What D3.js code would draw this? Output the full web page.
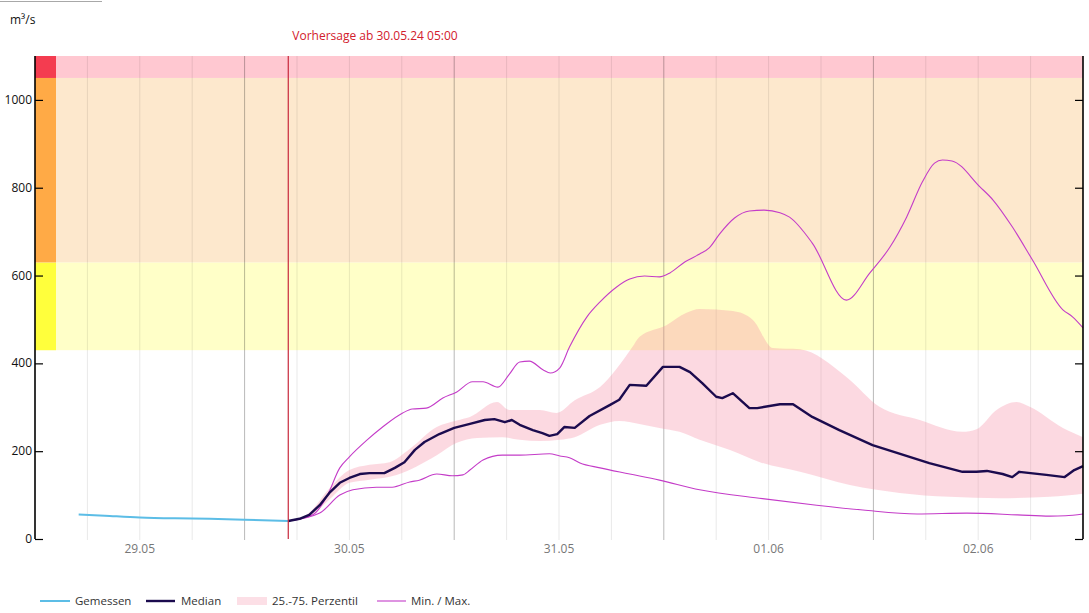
<!DOCTYPE html>
<html><head><meta charset="utf-8">
<script src="https://d3js.org/d3.v7.min.js"></script>
<style>body{margin:0;background:#fff}svg{display:block;font-family:"Open Sans",sans-serif}</style>
</head><body><svg id="c" width="1089" height="613"></svg>
<script>
// ---- data (hours relative to 30.05.24 00:00, values in m³/s) ----
const forecastStartHour = 5; // 30.05.24 05:00
const dayLabels = ["29.05", "30.05", "31.05", "01.06", "02.06"];
const yTicks = [0, 200, 400, 600, 800, 1000];
const warnLevels = [430, 630, 1050, 1100];
const warnBandColors = ["#ffffc8", "#fde8cd", "#ffc8d1"];
const warnStripColors = ["#ffff3c", "#ffaa46", "#f43c50"];

const measuredHours  = [-19, -16, -12, -8, -4, 0, 5];
const measuredValues = [56, 53, 49, 47, 46, 44, 41];

const medianHours  = [5, 6.3, 7.4, 8.6, 9.7, 10.9, 12, 13.2, 14.3, 16, 17.2, 18.3, 19.5, 20.6, 22.3, 24, 25.8, 27.5, 28.6, 29.8, 30.6, 31.5, 33, 34.1, 34.9, 35.8, 36.6, 37.8, 39.5, 41.8, 42.9, 44.1, 46, 47.9, 49.8, 51, 52.4, 54, 54.7, 55.9, 57.8, 58.7, 61.3, 62.8, 65, 68.1, 71.9, 74.7, 78.4, 82.2, 83.8, 85, 86.8, 87.9, 88.7, 91.8, 93.9, 95, 96];
const medianValues = [41, 46, 55, 77, 105, 128, 139, 148, 150, 150, 162, 175, 203, 221, 239, 253, 262, 271, 273, 266, 271, 260, 248, 241, 235, 239, 255, 253, 280, 305, 317, 351, 349, 392, 392, 380, 355, 324, 321, 332, 298, 298, 307, 307, 278, 248, 214, 196, 173, 153, 153, 155, 148, 141, 153, 146, 141, 157, 166];

const maxHours  = [5, 7.8, 9.4, 10.9, 12, 14, 15.8, 18.1, 19.2, 20.8, 22.7, 24.3, 26.1, 27.3, 29, 30.3, 31.5, 32.6, 34.2, 35, 36.1, 37.2, 39.2, 40.7, 42.6, 44.1, 45.8, 47.5, 48.7, 50.4, 52.1, 53.2, 54.4, 56.1, 57.8, 59.5, 61.3, 62.4, 65, 68.9, 71.6, 73.9, 75.8, 77.6, 79, 79.9, 81, 84.2, 85.7, 87.9, 90.2, 93.7, 94.8, 96];
const maxValues = [41, 55, 96, 162, 187, 225, 255, 287, 296, 298, 321, 335, 358, 358, 346, 375, 403, 405, 385, 378, 390, 437, 506, 540, 574, 592, 599, 597, 606, 631, 649, 663, 695, 731, 747, 749, 743, 733, 674, 544, 606, 665, 733, 813, 856, 863, 861, 802, 772, 711, 636, 522, 506, 481];

const minHours  = [5, 8.6, 10.9, 12.4, 15.1, 16.9, 18.9, 20, 22, 23.8, 25, 25.8, 27.3, 29.5, 31.5, 34.9, 36.1, 37.2, 38.4, 40.7, 44.1, 47.5, 52.1, 59.3, 65.5, 70.8, 77, 82.7, 88.5, 92.2, 94, 96];
const minValues = [41, 59, 100, 112, 118, 118, 130, 134, 148, 144, 146, 157, 180, 191, 191, 194, 189, 185, 173, 162, 148, 134, 112, 92, 77, 66, 57, 59, 55, 52, 53, 57];

const p75Hours  = [5, 7.4, 9.7, 12, 14.3, 16.6, 18.9, 22, 24.3, 25.8, 28.9, 30.3, 33.8, 35.7, 37.8, 40.7, 44.4, 45.2, 48.3, 50.6, 52.1, 55.9, 58.2, 60.5, 63.6, 68.9, 72.7, 77.3, 82.2, 83.8, 86.1, 88.4, 89.9, 93.7, 96];
const p75Values = [41, 60, 115, 157, 169, 175, 205, 255, 270, 278, 312, 294, 294, 287, 316, 346, 437, 460, 487, 515, 524, 519, 499, 435, 432, 369, 301, 271, 244, 250, 294, 312, 301, 253, 232];

const p25Hours  = [5, 7.4, 9.7, 12, 14.3, 17.4, 22, 24.3, 26.6, 29.5, 31.5, 33.8, 36.1, 37.8, 40.7, 42.9, 45.2, 47.5, 49.8, 52.1, 55.5, 59, 63.6, 69.3, 75, 80.7, 86.5, 92.2, 96];
const p25Values = [41, 50, 90, 128, 135, 146, 191, 219, 230, 232, 226, 223, 226, 232, 260, 269, 262, 253, 244, 226, 203, 175, 153, 123, 105, 96, 93, 96, 103];

// ---- layout ----
const svg = d3.select("#c");
const L = 35, R = 1083, T = 56, B = 539;
const base = new Date(2024, 4, 30, 0, 0);
const hourToDate = h => new Date(base.getTime() + h * 3600e3);
const x = d3.scaleTime().domain([hourToDate(-24), hourToDate(96)]).range([L, R]);
const y = d3.scaleLinear().domain([0, 1100]).range([B, T]);

// top-left artifact line
svg.append("line").attr("x1", 0).attr("x2", 102).attr("y1", 1.5).attr("y2", 1.5).attr("stroke", "#a8a8a8").attr("stroke-width", 1.2);

// warning bands
for (let i = 0; i < 3; i++) {
  svg.append("rect").attr("x", L).attr("width", R - L)
    .attr("y", y(warnLevels[i + 1])).attr("height", y(warnLevels[i]) - y(warnLevels[i + 1]))
    .attr("fill", warnBandColors[i]);
  svg.append("rect").attr("x", L).attr("width", 21)
    .attr("y", y(warnLevels[i + 1])).attr("height", y(warnLevels[i]) - y(warnLevels[i + 1]))
    .attr("fill", warnStripColors[i]);
}

// gridlines every 6h
const grid = d3.range(-18, 96, 6);
svg.append("g").selectAll("line").data(grid).join("line")
  .attr("x1", d => x(hourToDate(d))).attr("x2", d => x(hourToDate(d)))
  .attr("y1", T).attr("y2", B + 1)
  .attr("stroke", d => d % 24 === 0 ? "rgba(0,0,0,0.28)" : "rgba(0,0,0,0.09)")
  .attr("stroke-width", 1);

// percentile band
const band = p75Hours.map((h, i) => ({h, v: p75Values[i]}));
const lowPts = p25Hours.map((h, i) => ({h, v: p25Values[i]}));
const upperLine = d3.line().x(d => x(hourToDate(d.h))).y(d => y(d.v)).curve(d3.curveMonotoneX);
const lowerRev = lowPts.slice().reverse();
const upperPath = upperLine(band);
const lowerPath = d3.line().x(d => x(hourToDate(d.h))).y(d => y(d.v)).curve(d3.curveMonotoneX)(lowerRev);
svg.append("path").attr("d", upperPath + "L" + lowerPath.slice(1) + "Z")
  .attr("fill", "rgba(246,140,165,0.33)");

const lineGen = curve => d3.line().x(d => x(hourToDate(d[0]))).y(d => y(d[1])).curve(curve);
const zip = (a, b) => a.map((h, i) => [h, b[i]]);

svg.append("path").attr("d", lineGen(d3.curveMonotoneX)(zip(maxHours, maxValues)))
  .attr("fill", "none").attr("stroke", "#c43cc8").attr("stroke-width", 1.1);
svg.append("path").attr("d", lineGen(d3.curveMonotoneX)(zip(minHours, minValues)))
  .attr("fill", "none").attr("stroke", "#c43cc8").attr("stroke-width", 1.1);
svg.append("path").attr("d", lineGen(d3.curveLinear)(zip(medianHours, medianValues)))
  .attr("fill", "none").attr("stroke", "#1b0b4e").attr("stroke-width", 2.4).attr("stroke-linejoin", "round");
svg.append("path").attr("d", lineGen(d3.curveMonotoneX)(zip(measuredHours, measuredValues)))
  .attr("fill", "none").attr("stroke", "#5cbde6").attr("stroke-width", 2);

// forecast line + label
const fx = x(hourToDate(forecastStartHour));
svg.append("line").attr("x1", fx).attr("x2", fx).attr("y1", T).attr("y2", B)
  .attr("stroke", "#c8283c").attr("stroke-width", 1.2);
svg.append("text").attr("x", fx + 4).attr("y", 40).attr("fill", "#d2202c")
  .attr("font-size", 12).text("Vorhersage ab 30.05.24 05:00");

// y axes
const yAxisL = d3.axisRight(y).tickValues(yTicks).tickSize(8).tickFormat("");
const gl = svg.append("g").attr("transform", `translate(${L},0)`).call(yAxisL);
gl.select(".domain").attr("d", `M0,${T}V${B}`).attr("stroke", "#000").attr("stroke-width", 1.6);
gl.selectAll(".tick line").attr("stroke", "#000").attr("stroke-width", 1.2);
svg.append("g").selectAll("text").data(yTicks).join("text")
  .attr("x", L - 3).attr("y", d => y(d) + 4).attr("text-anchor", "end")
  .attr("font-size", 12).attr("fill", "#111").text(d => d);

const yAxisR = d3.axisLeft(y).tickValues(yTicks).tickSize(8).tickFormat("");
const gr = svg.append("g").attr("transform", `translate(${R},0)`).call(yAxisR);
gr.select(".domain").attr("d", `M0,${T}V${B}`).attr("stroke", "#000").attr("stroke-width", 1.6);
gr.selectAll(".tick line").attr("stroke", "#000").attr("stroke-width", 1.2);

svg.append("text").attr("x", 10).attr("y", 24).attr("font-size", 12).attr("fill", "#111").text("m³/s");

// x labels (centered at noon)
svg.append("g").selectAll("text").data(dayLabels).join("text")
  .attr("x", (d, i) => x(hourToDate(-12 + 24 * i))).attr("y", 553)
  .attr("text-anchor", "middle").attr("font-size", 12).attr("fill", "#777").text(d => d);

// legend
const lg = svg.append("g").attr("font-size", 11.5).attr("fill", "#333");
const ly = 601;
lg.append("line").attr("x1", 40).attr("x2", 70).attr("y1", ly).attr("y2", ly).attr("stroke", "#5cbde6").attr("stroke-width", 2);
lg.append("text").attr("x", 75).attr("y", ly + 4).text("Gemessen");
lg.append("line").attr("x1", 146).attr("x2", 175).attr("y1", ly).attr("y2", ly).attr("stroke", "#1b0b4e").attr("stroke-width", 2.4);
lg.append("text").attr("x", 181).attr("y", ly + 4).text("Median");
lg.append("rect").attr("x", 237).attr("y", ly - 4).attr("width", 30).attr("height", 8).attr("fill", "rgba(246,140,165,0.28)");
lg.append("text").attr("x", 272).attr("y", ly + 4).text("25.-75. Perzentil");
lg.append("line").attr("x1", 377).attr("x2", 406).attr("y1", ly).attr("y2", ly).attr("stroke", "#c43cc8").attr("stroke-width", 1.1);
lg.append("text").attr("x", 411).attr("y", ly + 4).text("Min. / Max.");
</script></body></html>
